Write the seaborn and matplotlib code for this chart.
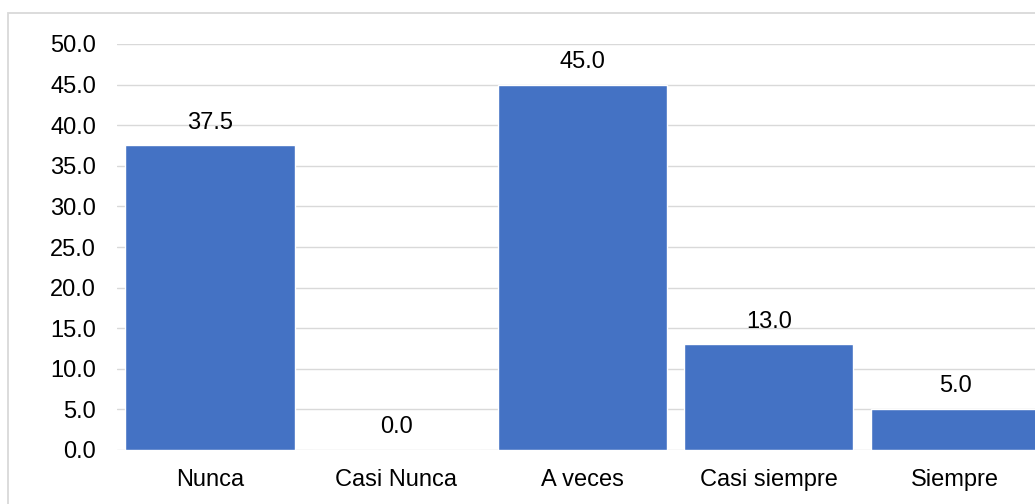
import matplotlib
matplotlib.use("Agg")
import matplotlib.pyplot as plt
from matplotlib.patches import Rectangle
import seaborn as sns
import pandas as pd

categories = ["Nunca", "Casi Nunca", "A veces", "Casi siempre", "Siempre"]
values = [37.5, 0.0, 45.0, 13.0, 5.0]
y_ticks = [0, 5, 10, 15, 20, 25, 30, 35, 40, 45, 50]

sns.set_theme(style="white")
plt.rcParams["font.family"] = ["Liberation Sans", "DejaVu Sans"]

W, H = 1035, 504
fig = plt.figure(figsize=(W / 100, H / 100), dpi=100)
fig.patch.set_facecolor("white")

# chart-area border (runs off the right and bottom edges)
fig.patches.append(Rectangle((8 / W, -0.1), 1.2, (H - 13) / H + 0.1,
                             transform=fig.transFigure, fill=False,
                             edgecolor="#D9D9D9", linewidth=1.3, zorder=0))

ax = fig.add_axes([116.85 / W, (H - 450) / H, 931.5 / W, 406 / H])
df = pd.DataFrame({"cat": categories, "val": values})
sns.barplot(data=df, x="cat", y="val", ax=ax, color="#4472C4",
            saturation=1, width=0.908, zorder=3)

ax.set_ylim(0, 50)
ax.set_xlim(-0.5, len(categories) - 0.5)
ax.set_yticks(y_ticks)
ax.set_yticklabels([f"{t:.1f}" for t in y_ticks])
ax.yaxis.grid(True, color="#D9D9D9", linewidth=1.0, zorder=0)
ax.set_axisbelow(True)
for s in ax.spines.values():
    s.set_visible(False)
ax.set_xlabel("")
ax.set_ylabel("")
ax.tick_params(axis="y", length=0, pad=15, labelsize=17, labelcolor="#000000")
ax.tick_params(axis="x", length=0, pad=13.5, labelsize=17, labelcolor="#000000")

for i, v in enumerate(values):
    ax.annotate(f"{v:.1f}", (i, v), xytext=(0, 16.5), textcoords="offset points",
                ha="center", va="center", fontsize=17, color="#000000")

fig.savefig("out.png", dpi=100)
